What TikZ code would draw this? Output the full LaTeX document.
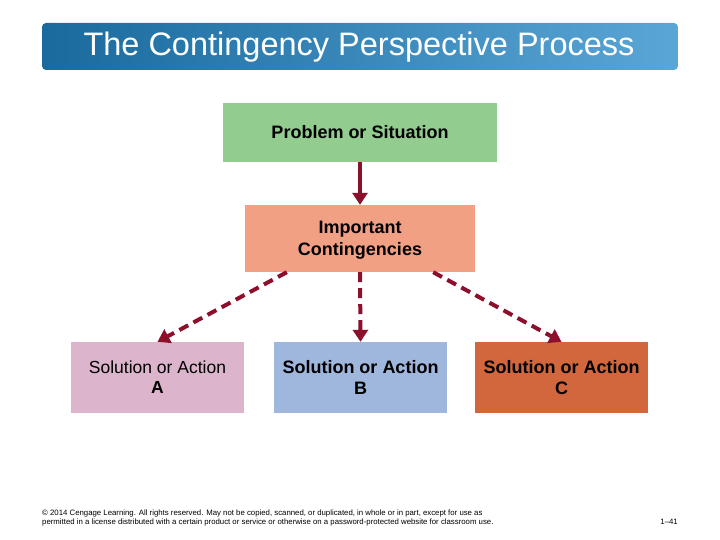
\documentclass[tikz,border=0pt]{standalone}
\usepackage{xcolor}
\usepackage{fontspec}
\setmainfont{Liberation Sans}
\usepackage{tikz}
\usetikzlibrary{arrows.meta, positioning, calc}
\definecolor{cp-title-l}{HTML}{1A6A9E}
\definecolor{cp-title-r}{HTML}{5AA6D6}
\definecolor{cp-green}{HTML}{92CC8F}
\definecolor{cp-salmon}{HTML}{F2A084}
\definecolor{cp-pink}{HTML}{DCB5CC}
\definecolor{cp-blue}{HTML}{9FB7DD}
\definecolor{cp-rust}{HTML}{D2663C}
\definecolor{cp-arrow}{HTML}{8C0F2C}
\tikzset{
    stagebox/.style={draw=none, align=center, inner sep=0pt, font=\fontsize{18}{21.5}\selectfont\bfseries},
    solbox/.style={stagebox, minimum width=173pt, minimum height=71pt},
    flowline/.style={draw=cp-arrow, line width=4pt, -{Triangle[width=15pt,length=12pt]}},
    flowdash/.style={flowline, dash pattern=on 10pt off 6pt}
}
\begin{document}
\begin{tikzpicture}[x=1pt, y=-1pt]
    \useasboundingbox (0,0) rectangle (720,540);
    % title banner
    \shade[left color=cp-title-l, right color=cp-title-r, rounded corners=4pt] (42,23) rectangle (678,70);
    \node (title) at (359,47) [text=white, font=\fontsize{32.5}{38}\selectfont] {The Contingency Perspective Process};

    % stages
    \node (problem) at (360,132.5) [stagebox, fill=cp-green, minimum width=274pt, minimum height=59pt] {Problem or Situation};
    \node (cont) at (360,238.5) [stagebox, fill=cp-salmon, minimum width=230pt, minimum height=67pt] {\rule{0pt}{16pt}Important\\Contingencies};
    \node (solA) at (157.5,377.5) [solbox, fill=cp-pink, font=\fontsize{17.5}{20}\selectfont] {Solution or Action\\\textbf{A}};
    \node (solB) at (360.5,377.5) [solbox, fill=cp-blue] {Solution or Action\\B};
    \node (solC) at (561.5,377.5) [solbox, fill=cp-rust] {Solution or Action\\C};

    % connectors
    \draw[flowline] (problem.south) -- (cont.north);
    \draw[flowdash] ([xshift=42pt]cont.south west) -- (solA.north);
    \draw[flowdash] (cont.south) -- (solB.north);
    \draw[flowdash] ([xshift=-42pt]cont.south east) -- (solC.north);

    % footer
    \node (legal) at (42,517.5) [anchor=west, align=left, inner sep=0pt, font=\fontsize{7.8}{9}\selectfont] {\copyright{} 2014 Cengage Learning. All rights reserved. May not be copied, scanned, or duplicated, in whole or in part, except for use as\\permitted in a license distributed with a certain product or service or otherwise on a password-protected website for classroom use.};
    \node (pagenum) at (678,522) [anchor=east, inner sep=0pt, font=\fontsize{7.8}{9}\selectfont] {1--41};
\end{tikzpicture}
\end{document}
